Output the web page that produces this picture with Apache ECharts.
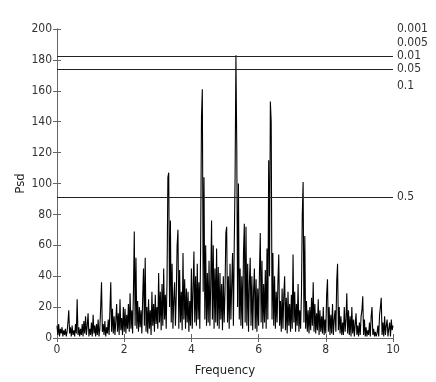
<!DOCTYPE html>
<html>
<head>
<meta charset="utf-8">
<script src="https://cdn.jsdelivr.net/npm/echarts@6/dist/echarts.min.js"></script>
<style>
  * { margin: 0; padding: 0; }
  html, body { background: #fff; }
  #main { width: 436px; height: 382px; }
</style>
</head>
<body>
<div id="main"></div>
<script>
// periodogram, frequency step 0.025 from 0 to 10
var freqStep = 0.025
var psd = [
  8, 2, 9, 1, 6, 3, 7, 1, 5, 2, 6, 1, 4, 10, 18, 3, 7, 1, 8, 2,
  5, 1, 9, 3, 25, 2, 7, 1, 6, 2, 9, 1, 11, 3, 14, 2, 8, 16, 1, 6,
  2, 10, 1, 15, 3, 8, 1, 9, 2, 12, 1, 6, 20, 36, 4, 9, 2, 11, 1, 7,
  3, 12, 2, 18, 36, 4, 19, 3, 14, 2, 11, 22, 4, 16, 2, 25, 5, 13, 2, 20,
  4, 19, 3, 15, 6, 22, 4, 29, 6, 18, 3, 30, 69, 8, 52, 6, 24, 4, 20, 7,
  18, 3, 26, 45, 8, 52, 4, 20, 3, 25, 6, 18, 2, 30, 8, 22, 4, 28, 9, 20,
  6, 42, 10, 30, 5, 35, 8, 45, 12, 28, 6, 38, 104, 107, 20, 76, 10, 48, 6, 25,
  36, 8, 28, 60, 70, 6, 44, 10, 30, 5, 55, 12, 38, 6, 32, 10, 30, 4, 24, 8,
  45, 6, 32, 56, 10, 40, 8, 48, 12, 36, 6, 60, 143, 161, 30, 104, 12, 60, 8, 42,
  10, 50, 8, 34, 76, 12, 60, 6, 45, 10, 58, 8, 46, 6, 42, 12, 35, 5, 40, 10,
  30, 68, 72, 10, 40, 6, 48, 12, 35, 55, 8, 60, 103, 183, 124, 20, 100, 12, 45, 8,
  40, 6, 55, 74, 10, 72, 8, 48, 4, 35, 52, 8, 40, 5, 30, 45, 6, 38, 4, 32,
  8, 42, 68, 10, 50, 6, 35, 10, 44, 6, 58, 12, 115, 40, 153, 140, 12, 55, 8, 40,
  6, 30, 10, 36, 54, 8, 24, 4, 32, 6, 28, 40, 5, 26, 3, 30, 8, 22, 4, 28,
  6, 54, 10, 30, 4, 22, 8, 35, 4, 18, 6, 28, 80, 101, 10, 66, 6, 24, 4, 18,
  3, 20, 5, 26, 8, 36, 4, 22, 3, 16, 5, 25, 2, 18, 4, 14, 3, 20, 2, 12,
  3, 28, 38, 4, 20, 2, 15, 3, 22, 2, 12, 18, 4, 37, 48, 5, 20, 3, 14, 2,
  10, 2, 20, 4, 12, 29, 3, 18, 2, 14, 1, 20, 3, 12, 1, 9, 16, 2, 8, 1,
  10, 2, 14, 18, 27, 2, 12, 1, 7, 1, 5, 2, 10, 1, 14, 20, 2, 6, 1, 4,
  1, 3, 8, 1, 15, 20, 26, 2, 10, 1, 14, 2, 8, 12, 1, 6, 10, 1, 12, 5,
  8
]
// false alarm levels on the right side
var sigLabels = ['0.001', '0.005', '0.01', '0.05', '0.1', '0.5']
var sigValues = [200, 191, 182.3, 174.1, 163, 91.3]
var sigDrawn = [false, false, true, true, false, true]

var font = "'DejaVu Sans Condensed', 'Liberation Sans Narrow', 'Liberation Sans', Arial, sans-serif"
var frameColor = '#666'

var myChart = echarts.init(document.getElementById('main'))

var points = psd.map(function (v, i) {
  return [+(i * freqStep).toFixed(3), v]
})

var levelLines = sigValues.map(function (v, i) {
  return {
    yAxis: v,
    label: { formatter: sigLabels[i] },
    lineStyle: { color: sigDrawn[i] ? '#222' : 'transparent' }
  }
})

var option = {
  animation: false,
  grid: { left: 57, right: 43, top: 29, bottom: 44 },
  xAxis: [{
    type: 'value',
    min: 0,
    max: 10,
    interval: 2,
    name: 'Frequency',
    nameLocation: 'middle',
    nameGap: 26,
    nameMoveOverlap: false,
    nameTextStyle: { fontFamily: font, fontSize: 13, color: '#222' },
    axisLine: { lineStyle: { color: frameColor } },
    axisTick: { inside: true, length: 4, lineStyle: { color: frameColor } },
    axisLabel: { fontFamily: font, fontSize: 12, color: '#333', margin: 6 },
    splitLine: { show: false }
  }, {
    type: 'value',
    position: 'top',
    min: 0,
    max: 10,
    interval: 2,
    axisLine: { show: true, lineStyle: { color: frameColor } },
    axisTick: { inside: true, length: 4, lineStyle: { color: frameColor } },
    axisLabel: { show: false },
    splitLine: { show: false }
  }],
  yAxis: [{
    type: 'value',
    min: 0,
    max: 200,
    interval: 20,
    name: 'Psd',
    nameLocation: 'middle',
    nameGap: 30,
    nameRotate: 90,
    nameMoveOverlap: false,
    nameTextStyle: { fontFamily: font, fontSize: 13, color: '#222' },
    axisLine: { show: true, lineStyle: { color: frameColor } },
    axisTick: { show: true, inside: true, length: 4, lineStyle: { color: frameColor } },
    axisLabel: { fontFamily: font, fontSize: 12, color: '#333', margin: 5 },
    splitLine: { show: false }
  }, {
    type: 'value',
    position: 'right',
    min: 0,
    max: 200,
    interval: 20,
    axisLine: { show: true, lineStyle: { color: frameColor } },
    axisTick: { show: true, inside: true, length: 4, lineStyle: { color: frameColor } },
    axisLabel: { show: false },
    splitLine: { show: false }
  }],
  series: [{
    type: 'line',
    data: points,
    symbol: 'none',
    lineStyle: { color: '#000', width: 1.1 },
    markLine: {
      silent: true,
      symbol: 'none',
      animation: false,
      lineStyle: { width: 1, type: 'solid' },
      label: {
        show: true,
        position: 'end',
        distance: 4,
        fontFamily: font,
        fontSize: 12,
        color: '#333'
      },
      data: levelLines
    }
  }]
}
myChart.setOption(option)
</script>
</body>
</html>
